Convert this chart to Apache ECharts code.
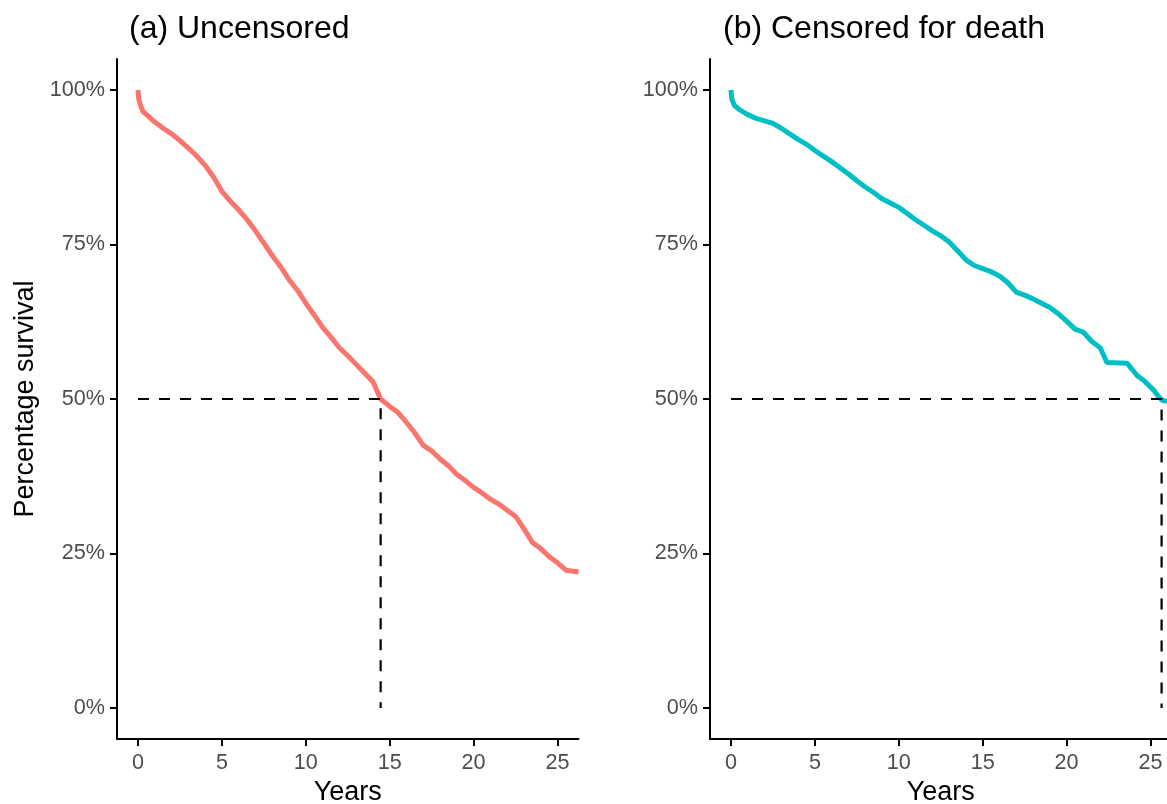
<!DOCTYPE html>
<html>
<head>
<meta charset="utf-8">
<script src="https://cdn.jsdelivr.net/npm/echarts@6/dist/echarts.min.js"></script>
<style>
html,body{margin:0;padding:0;background:#fff;}
#chart{width:1167px;height:804px;}
</style>
</head>
<body>
<div id="chart"></div>
<script>
// ---- data ----
var panelTitles = ['(a) Uncensored', '(b) Censored for death'];
var xTicks = [0, 5, 10, 15, 20, 25];
var yTicks = [0, 25, 50, 75, 100];

// (a) Uncensored: years, percentage surviving
var yearsA = [0, 0.05, 0.15, 0.3, 0.6, 1.0, 1.5, 2.0, 2.5, 3.0, 3.5, 4.0, 4.5, 5.0, 5.5, 6.0, 6.5, 7.0, 7.5, 8.0, 8.5, 9.0, 9.5, 10.0, 10.5, 11.0, 11.5, 12.0, 12.5, 13.0, 13.5, 14.0, 14.46, 15.0, 15.5, 16.0, 16.5, 17.0, 17.5, 18.0, 18.5, 19.0, 19.5, 20.0, 20.5, 21.0, 21.5, 22.0, 22.5, 23.0, 23.5, 24.0, 24.5, 25.0, 25.5, 26.25];
var survA  = [100, 98.5, 97.5, 96.5, 95.8, 94.8, 93.8, 92.9, 91.8, 90.6, 89.3, 87.8, 85.9, 83.6, 82.0, 80.6, 79.0, 77.2, 75.2, 73.2, 71.4, 69.3, 67.6, 65.5, 63.6, 61.6, 60.0, 58.3, 57.0, 55.6, 54.2, 52.8, 50.0, 48.8, 47.8, 46.2, 44.5, 42.5, 41.6, 40.3, 39.2, 37.8, 36.8, 35.7, 34.8, 33.8, 33.0, 32.0, 31.0, 29.0, 26.8, 25.8, 24.5, 23.5, 22.3, 22.0];

// (b) Censored for death
var yearsB = [0, 0.05, 0.2, 0.5, 1.0, 1.5, 2.0, 2.5, 3.0, 3.5, 4.0, 4.5, 5.0, 5.5, 6.0, 6.5, 7.0, 7.5, 8.0, 8.5, 9.0, 9.5, 10.0, 10.5, 11.0, 11.5, 12.0, 12.5, 13.0, 13.5, 14.0, 14.5, 15.0, 15.5, 16.0, 16.5, 17.0, 17.5, 18.0, 18.5, 19.0, 19.5, 20.0, 20.5, 21.0, 21.5, 22.0, 22.4, 23.6, 24.2, 24.6, 25.2, 25.5, 25.7, 26.25];
var survB  = [100, 98.5, 97.5, 96.8, 96.0, 95.4, 95.0, 94.6, 93.8, 92.9, 92.0, 91.2, 90.2, 89.3, 88.4, 87.4, 86.4, 85.3, 84.3, 83.4, 82.4, 81.7, 81.0, 80.0, 79.0, 78.1, 77.2, 76.4, 75.4, 74.0, 72.5, 71.6, 71.1, 70.6, 69.9, 68.8, 67.3, 66.8, 66.2, 65.5, 64.8, 63.8, 62.6, 61.3, 60.8, 59.3, 58.3, 55.9, 55.8, 53.8, 53.0, 51.4, 50.3, 49.8, 49.5];

// median survival times (years)
var medians = [14.46, 25.66];

// ---- build ----
function pairs(xs, ys){ var o=[]; for (var i=0;i<xs.length;i++) o.push([xs[i], ys[i]]); return o; }
function medianPath(m){ return [[0,50],[m,50],[m,0]]; }

var tickColor = '#4D4D4D';
var axisLineStyle = {color:'#000', width:2};
var fontFam = '"Liberation Sans", Arial, Helvetica, sans-serif';

function xAxis(idx){
  return {
    type:'value', gridIndex: idx, min:-1.25, max:26.25,
    name:'Years', nameLocation:'middle', nameGap:38,
    nameTextStyle:{fontSize:27, color:'#000', fontFamily:fontFam},
    axisLine:{show:true, onZero:false, lineStyle:axisLineStyle},
    axisTick:{show:true, length:7, lineStyle:axisLineStyle, customValues:xTicks},
    axisLabel:{fontSize:21.6, color:tickColor, margin:13, fontFamily:fontFam, customValues:xTicks},
    splitLine:{show:false}
  };
}
function yAxis(idx, showName){
  return {
    type:'value', gridIndex: idx, min:-5, max:105,
    name: showName ? 'Percentage survival' : '', nameLocation:'middle', nameGap:78,
    nameTextStyle:{fontSize:27, color:'#000', fontFamily:fontFam},
    axisLine:{show:true, onZero:false, lineStyle:axisLineStyle},
    axisTick:{show:true, length:7, lineStyle:axisLineStyle, customValues:yTicks},
    axisLabel:{fontSize:21.6, color:tickColor, margin:12, fontFamily:fontFam, customValues:yTicks,
      formatter:function(v){ return v + '%'; }},
    splitLine:{show:false}
  };
}

var chart = echarts.init(document.getElementById('chart'), null, {renderer:'canvas'});
chart.setOption({
  animation:false,
  backgroundColor:'#fff',
  title:[
    {text:panelTitles[0], left:124, top:8, textStyle:{fontSize:32, fontWeight:'normal', color:'#000', fontFamily:fontFam}},
    {text:panelTitles[1], left:718, top:8, textStyle:{fontSize:32, fontWeight:'normal', color:'#000', fontFamily:fontFam}}
  ],
  grid:[
    {left:117, top:59, width:461.5, height:680, containLabel:false, outerBoundsMode:'none'},
    {left:710, top:59, width:461.5, height:680, containLabel:false, outerBoundsMode:'none'}
  ],
  xAxis:[xAxis(0), xAxis(1)],
  yAxis:[yAxis(0,true), yAxis(1,false)],
  series:[
    {type:'line', xAxisIndex:0, yAxisIndex:0, data:pairs(yearsA, survA), showSymbol:false,
     lineStyle:{color:'#F8766D', width:5}, z:3},
    {type:'line', xAxisIndex:1, yAxisIndex:1, data:pairs(yearsB, survB), showSymbol:false,
     lineStyle:{color:'#00BFC4', width:5}, z:3},
    {type:'line', xAxisIndex:0, yAxisIndex:0, data:medianPath(medians[0]), showSymbol:false,
     lineStyle:{color:'#000', width:2.2, type:[11,10]}, z:4},
    {type:'line', xAxisIndex:1, yAxisIndex:1, data:medianPath(medians[1]), showSymbol:false,
     lineStyle:{color:'#000', width:2.2, type:[11,10]}, z:4}
  ]
});
</script>
</body>
</html>
